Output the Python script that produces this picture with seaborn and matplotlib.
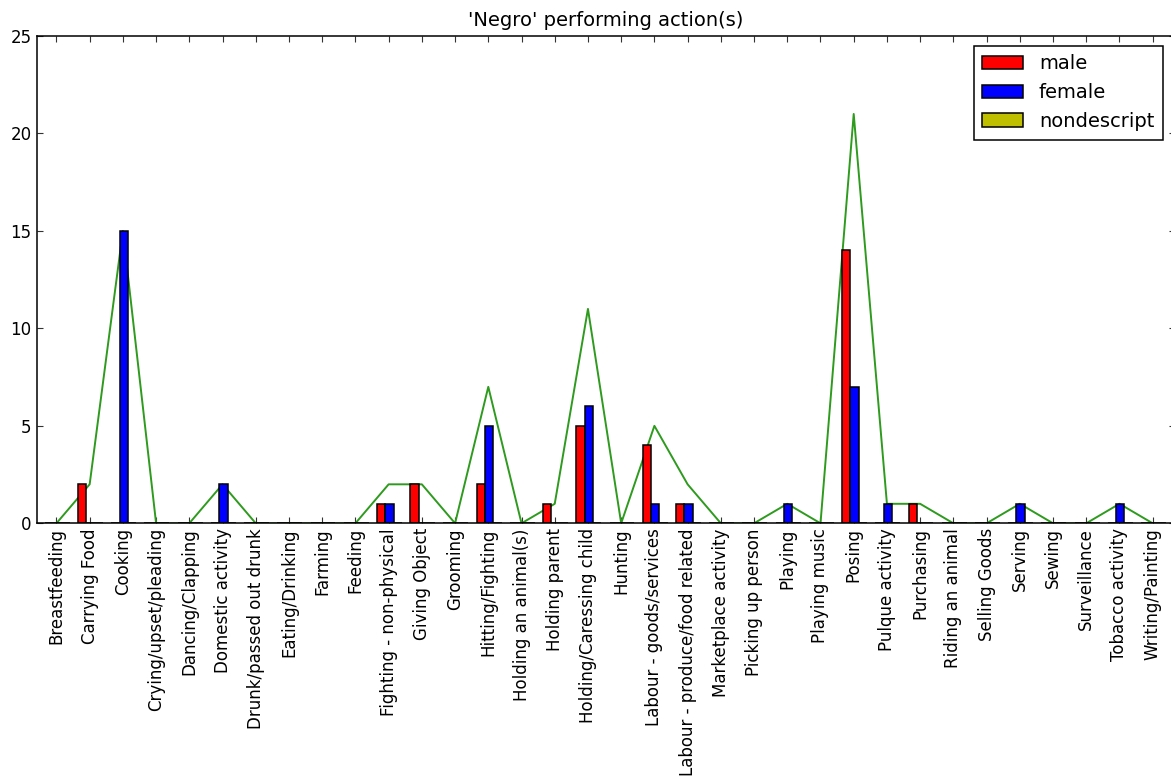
import numpy as np
import pandas as pd
import matplotlib
matplotlib.use("Agg")
import matplotlib.pyplot as plt
import seaborn as sns
from matplotlib.patches import Patch

categories = [
    "Breastfeeding", "Carrying Food", "Cooking", "Crying/upset/pleading",
    "Dancing/Clapping", "Domestic activity", "Drunk/passed out drunk",
    "Eating/Drinking", "Farming", "Feeding", "Fighting - non-physical",
    "Giving Object", "Grooming", "Hitting/Fighting", "Holding an animal(s)",
    "Holding parent", "Holding/Caressing child", "Hunting",
    "Labour - goods/services", "Labour - produce/food related",
    "Marketplace activity", "Picking up person", "Playing", "Playing music",
    "Posing", "Pulque activity", "Purchasing", "Riding an animal",
    "Selling Goods", "Serving", "Sewing", "Surveillance", "Tobacco activity",
    "Writing/Painting",
]
male = [0, 2, 0, 0, 0, 0, 0, 0, 0, 0, 1, 2, 0, 2, 0, 1, 5, 0, 4, 1,
        0, 0, 0, 0, 14, 0, 1, 0, 0, 0, 0, 0, 0, 0]
female = [0, 0, 15, 0, 0, 2, 0, 0, 0, 0, 1, 0, 0, 5, 0, 0, 6, 0, 1, 1,
          0, 0, 1, 0, 7, 1, 0, 0, 0, 1, 0, 0, 1, 0]
nondescript = [0] * 34
total = [0, 2, 15, 0, 0, 2, 0, 0, 0, 0, 2, 2, 0, 7, 0, 1, 11, 0, 5, 2,
         0, 0, 1, 0, 21, 1, 1, 0, 0, 1, 0, 0, 1, 0]
series_names = ["male", "female", "nondescript"]
series_colors = ["#ff0000", "#0000ff", "#bfbf00"]

sns.set_style("ticks")
plt.rcParams["font.family"] = ["DejaVu Sans"]
plt.rcParams["text.color"] = "black"
plt.rcParams["xtick.color"] = "black"
plt.rcParams["ytick.color"] = "black"
plt.rcParams["axes.labelcolor"] = "black"

W, H = 1171, 781
fig = plt.figure(figsize=(W / 100, H / 100), dpi=100)
left, right, top, bottom = 36.5, 1175, 36, 523.3
ax = fig.add_axes([left / W, 1 - bottom / H, (right - left) / W, (bottom - top) / H])

ind = np.arange(len(categories))
width = 0.25
for k, (vals, col) in enumerate(zip([male, female, nondescript], series_colors)):
    df = pd.DataFrame({"x": ind + width * (k + 1) + width / 2, "y": vals})
    sns.barplot(data=df, x="x", y="y", native_scale=True, orient="x",
                width=width, color=col, saturation=1, edgecolor="black",
                linewidth=1.1, errorbar=None, ax=ax, zorder=2)

dfl = pd.DataFrame({"x": ind + 0.6, "y": total})
sns.lineplot(data=dfl, x="x", y="y", color="#2e9a1e", linewidth=1.4, ax=ax, zorder=1.5)

ax.set_xlim(0, (right - left) / 33.22)
ax.set_ylim(0, 25)
ax.set_yticks([0, 5, 10, 15, 20, 25])
ax.set_xticks(ind + 0.6)
ax.set_xticklabels(categories, rotation=90, fontsize=12, color="black")
ax.tick_params(axis="y", labelsize=12, labelcolor="black")
ax.tick_params(direction="in", top=True, right=True, length=4, width=0.8, color="#333333")
ax.set_xlabel("")
ax.set_ylabel("")
for s in ax.spines.values():
    s.set_color("black")
    s.set_linewidth(1.1)
ax.set_title("'Negro' performing action(s)", fontsize=14, pad=7, color="black")

handles = [Patch(facecolor=c, edgecolor="black", linewidth=1.1, label=n)
           for n, c in zip(series_names, series_colors)]
leg = ax.legend(handles=handles, loc="upper right",
                bbox_to_anchor=(1163 / W, 1 - 45.7 / H), bbox_transform=fig.transFigure,
                borderaxespad=0, fancybox=False, framealpha=1, fontsize=14,
                handlelength=2.1, handleheight=0.7, handletextpad=0.8,
                labelspacing=0.5, borderpad=0.45)
leg.get_frame().set_edgecolor("black")
leg.get_frame().set_linewidth(1.1)
for t in leg.get_texts():
    t.set_color("black")

fig.savefig("out.png", dpi=100)
